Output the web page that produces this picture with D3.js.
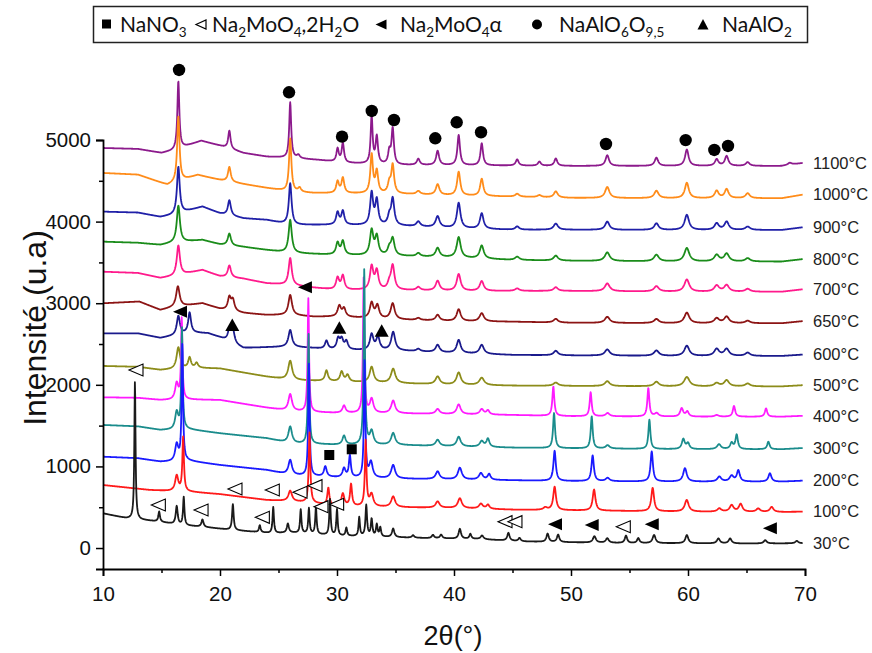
<!DOCTYPE html>
<html><head><meta charset="utf-8">
<script src="https://cdn.jsdelivr.net/npm/d3@7"></script>
<style>body{margin:0;background:#fff}svg{display:block}</style>
</head><body><svg id="c" width="872" height="653"></svg>
<script>
// ---------- DATA ----------
const xTicks = [10,20,30,40,50,60,70];
const yTicks = [0,1000,2000,3000,4000,5000];
const temps = ["1100°C","1000°C","900°C","800°C","700°C","650°C","600°C","500°C","400°C","300°C","200°C","100°C","30°C"];
const colors = ["#8C1A8C","#FF8C1A","#2020A8","#1A8C1A","#FF1A8C","#8C1414","#1A1A8C","#8C8C1A","#FF1AFF","#1A8C8C","#1A1AFF","#FF1A1A","#1A1A1A"];

// background points [2theta, intensity] and peaks [2theta, height, half-width]
const bg1100 = [[10,4902],[13,4890],[15,4841],[16,4870],[18.4,4990],[20,4930],[22,4841],[24,4796],[26,4780],[28.4,4755],[30.8,4718],[35,4694],[40,4690],[50,4682],[60,4682],[68,4682],[69.8,4718]];
const pk1100 = [[16.44,830,0.1],[20.8,220,0.12],[26.0,680,0.1],[26.7,40,0.15],[30.05,160,0.12],[30.5,235,0.12],[32.96,580,0.1],[33.4,330,0.12],[34.47,150,0.12],[34.76,440,0.12],[36.95,75,0.15],[38.6,175,0.15],[40.4,370,0.13],[42.37,270,0.13],[45.4,75,0.15],[47.3,50,0.15],[48.7,90,0.15],[53.1,130,0.18],[57.3,100,0.18],[59.9,200,0.18],[62.45,80,0.18],[63.3,120,0.18],[65.1,45,0.2],[68.7,25,0.2]];

const bg1000 = [[10,4596],[13,4575],[15.5,4449],[16.2,4480],[18.1,4571],[20,4510],[22,4460],[24,4412],[26,4367],[28,4350],[30,4347],[35,4340],[40,4320],[45,4306],[50,4290],[60,4286],[68,4286],[69.8,4330]];
const pk1000 = [[16.44,800,0.12],[20.8,180,0.14],[26.0,650,0.12],[26.8,50,0.15],[30.05,140,0.14],[30.5,185,0.14],[32.96,470,0.13],[33.4,265,0.14],[34.47,120,0.15],[34.76,345,0.14],[36.95,40,0.2],[38.6,130,0.18],[40.4,290,0.16],[42.37,210,0.16],[45.4,35,0.2],[47.3,25,0.2],[48.7,75,0.2],[53.1,135,0.22],[57.3,90,0.22],[59.9,190,0.2],[62.45,90,0.2],[63.3,110,0.2],[65.1,60,0.22]];

const bg900 = [[10,4122],[13,4110],[14.9,4057],[16,4080],[18.5,4183],[20,4100],[22,4040],[24,4020],[26,3960],[30,3959],[35,3950],[40,3920],[45,3900],[50,3900],[60,3897],[68,3897],[69.8,3930]];
const pk900 = [[16.44,575,0.14],[20.8,185,0.15],[26.0,510,0.14],[30.05,150,0.15],[30.5,165,0.15],[32.96,390,0.15],[33.4,300,0.15],[34.47,100,0.15],[34.76,325,0.16],[36.95,60,0.2],[38.6,135,0.2],[40.4,310,0.18],[42.37,190,0.18],[45.4,40,0.2],[48.7,75,0.22],[53.1,100,0.22],[57.3,80,0.22],[59.9,185,0.22],[62.45,80,0.22],[63.3,100,0.22],[65.1,40,0.25]];

const bg800 = [[10,3754],[13,3740],[14.9,3714],[16,3740],[18.5,3775],[20,3720],[22,3690],[24,3652],[26,3616],[30,3591],[35,3580],[40,3560],[45,3530],[50,3520],[60,3510],[68,3510],[69.8,3540]];
const pk800 = [[16.44,450,0.16],[20.8,145,0.16],[26.0,405,0.16],[30.05,145,0.16],[30.5,165,0.16],[32.96,300,0.17],[33.4,225,0.17],[34.47,80,0.17],[34.76,205,0.18],[36.95,40,0.2],[38.6,110,0.2],[40.4,250,0.2],[42.37,160,0.2],[45.4,40,0.22],[48.7,60,0.22],[53.1,105,0.25],[57.3,80,0.25],[59.9,165,0.25],[62.45,80,0.25],[63.3,95,0.25],[65.1,40,0.25]];

const bg700 = [[10,3386],[13,3370],[14.9,3309],[16,3330],[18.5,3407],[20,3330],[22,3300],[24,3244],[26,3223],[28,3190],[30,3162],[35,3160],[40,3150],[50,3150],[60,3140],[68,3140],[69.8,3170]];
const pk700 = [[16.44,365,0.16],[20.8,145,0.16],[26.0,330,0.16],[30.05,145,0.16],[30.5,170,0.16],[32.96,280,0.17],[33.4,225,0.17],[34.47,70,0.17],[34.76,295,0.18],[36.95,40,0.2],[38.6,120,0.2],[40.4,205,0.2],[42.37,120,0.2],[45.4,30,0.22],[48.7,45,0.22],[53.1,95,0.25],[57.3,65,0.25],[59.9,150,0.25],[62.45,75,0.25],[63.3,80,0.25],[65.1,35,0.25]];

const bg650 = [[10,2999],[13.1,3020],[14.9,2917],[16,2950],[18.5,2999],[20,2930],[22,2880],[24,2856],[26,2856],[28,2835],[30,2835],[35,2800],[40,2780],[45,2773],[50,2760],[60,2754],[68,2754],[69.8,2780]];
const pk650 = [[16.4,250,0.18],[20.8,155,0.16],[21.1,130,0.16],[26.0,245,0.18],[30.2,130,0.17],[30.6,100,0.17],[32.96,185,0.18],[33.45,155,0.18],[34.76,195,0.2],[36.95,25,0.2],[38.6,70,0.2],[40.4,145,0.2],[42.37,100,0.22],[48.7,45,0.22],[53.1,75,0.25],[57.3,50,0.25],[59.9,130,0.25],[62.45,60,0.25],[63.3,80,0.25],[65.1,30,0.25]];

const bg600 = [[10,2631],[13,2630],[14.9,2574],[16,2600],[17.5,2640],[19,2630],[20,2580],[22,2450],[24,2460],[26,2467],[28,2450],[30,2427],[35,2420],[40,2390],[45,2366],[50,2360],[60,2353],[68,2353],[69.8,2370]];
const pk600 = [[16.44,230,0.16],[17.4,245,0.14],[20.8,135,0.16],[21.1,160,0.16],[26.0,205,0.18],[29.1,100,0.15],[30.1,130,0.16],[30.4,120,0.16],[30.8,100,0.16],[32.96,190,0.18],[33.5,155,0.18],[34.8,225,0.2],[36.95,30,0.2],[38.6,90,0.2],[40.4,160,0.2],[42.37,110,0.22],[48.7,55,0.22],[53.1,75,0.25],[57.3,65,0.25],[59.9,125,0.25],[62.45,85,0.25],[63.3,85,0.25],[65.1,40,0.25]];

const bg500 = [[10,2231],[13,2220],[14.9,2182],[16,2190],[18,2206],[20,2200],[22,2150],[24,2100],[26,2059],[28,2050],[30,2040],[35,2020],[40,2000],[45,1990],[50,1986],[60,1980],[68,1980],[69.8,1995]];
const pk500 = [[16.44,265,0.18],[17.4,130,0.14],[18.0,60,0.15],[26.0,237,0.2],[29.1,130,0.15],[30.4,120,0.16],[30.9,80,0.16],[32.96,192,0.2],[34.8,175,0.22],[38.6,95,0.22],[40.4,150,0.22],[42.37,90,0.25],[48.7,40,0.25],[53.1,60,0.25],[57.3,55,0.25],[59.9,115,0.28],[62.45,40,0.25],[63.3,75,0.25],[65.1,35,0.25]];

const bg400 = [[10,1847],[13,1840],[14.9,1814],[16,1815],[17,1820],[20,1814],[24,1720],[26,1680],[28,1665],[30,1655],[35,1650],[40,1640],[45,1630],[50,1615],[60,1609],[68,1609],[69.8,1620]];
const pk400 = [[16.3,200,0.16],[16.73,990,0.07],[26.0,205,0.18],[27.55,1390,0.07],[30.6,90,0.16],[32.28,1660,0.07],[32.96,170,0.18],[34.8,155,0.2],[38.6,60,0.2],[40.4,120,0.2],[42.37,65,0.2],[42.9,50,0.15],[48.49,360,0.1],[51.68,294,0.1],[53.13,40,0.2],[56.61,347,0.1],[57.32,40,0.2],[59.46,102,0.15],[59.94,61,0.15],[62.45,20,0.2],[63.93,131,0.12],[66.67,102,0.12]];

const bg300 = [[10,1508],[13,1490],[14.9,1446],[16,1450],[17,1460],[20,1406],[24,1345],[26,1283],[28,1275],[30,1265],[35,1263],[40,1245],[45,1230],[50,1222],[60,1210],[68,1210],[69.8,1225]];
const pk300 = [[16.3,210,0.16],[16.75,1225,0.07],[26.0,205,0.18],[27.57,1350,0.07],[30.6,110,0.16],[32.33,2150,0.07],[32.96,163,0.18],[34.8,145,0.2],[38.6,75,0.2],[40.4,118,0.2],[42.37,70,0.2],[42.9,100,0.15],[48.55,429,0.1],[51.77,392,0.1],[53.13,40,0.2],[56.7,359,0.1],[59.6,122,0.15],[60.0,70,0.15],[62.65,60,0.2],[63.73,75,0.15],[64.16,175,0.12],[66.87,93,0.12]];

const bg200 = [[10,1119],[13,1100],[14.9,1058],[16,1060],[17.2,1070],[20,1017],[24,956],[26,895],[28,880],[30,865],[35,850],[40,840],[45,830],[50,820],[60,813],[68,813],[69.8,825]];
const pk200 = [[16.3,205,0.16],[16.78,1420,0.07],[26.0,184,0.18],[27.6,1370,0.07],[29.0,125,0.14],[30.6,110,0.15],[31.1,265,0.1],[32.36,1450,0.07],[32.9,191,0.18],[34.8,165,0.2],[38.6,95,0.2],[40.5,143,0.2],[42.3,80,0.2],[43.0,70,0.15],[48.6,368,0.12],[51.85,315,0.12],[53.13,40,0.2],[56.9,368,0.12],[59.74,164,0.18],[62.68,60,0.2],[63.73,70,0.2],[64.3,135,0.15],[67.0,103,0.15]];

const bg100 = [[10,772],[14,711],[15.5,700],[17.3,690],[20,660],[24,588],[26,575],[28,550],[30,515],[35,500],[40,490],[45,470],[50,462],[60,445],[68,441],[69.8,445]];
const pk100 = [[16.3,190,0.16],[16.85,660,0.08],[26.0,126,0.18],[27.65,860,0.08],[29.26,208,0.1],[30.5,150,0.15],[31.2,266,0.1],[32.45,800,0.08],[32.95,150,0.18],[34.8,130,0.2],[38.6,77,0.2],[40.5,120,0.2],[42.3,60,0.2],[42.9,50,0.15],[47.8,30,0.2],[48.6,285,0.14],[51.97,257,0.14],[56.98,287,0.14],[59.89,143,0.2],[62.68,40,0.2],[63.73,80,0.2],[64.5,95,0.18],[66.0,40,0.2],[67.15,61,0.18]];

const bg30 = [[10,425],[12,364],[14.8,323],[16.5,282],[18.4,261],[21,221],[24.5,180],[26,190],[28,170],[30,150],[33,139],[38,120],[42,110],[46,80],[50,70],[55,60],[60,58],[65,55],[69.8,58]];
const pk30 = [[12.73,1690,0.06],[14.8,122,0.08],[16.3,225,0.1],[16.9,345,0.07],[18.5,90,0.1],[21.1,318,0.08],[23.4,86,0.08],[24.55,322,0.07],[25.8,110,0.1],[26.9,290,0.07],[27.6,310,0.07],[28.2,330,0.07],[29.4,440,0.07],[30.0,320,0.07],[30.8,100,0.08],[31.9,230,0.07],[32.5,380,0.08],[32.96,210,0.08],[33.4,145,0.08],[33.7,110,0.08],[34.8,105,0.12],[36.5,30,0.12],[38.2,40,0.12],[38.9,45,0.12],[40.5,120,0.12],[41.4,60,0.1],[42.4,45,0.15],[44.65,95,0.12],[45.6,40,0.12],[48.0,100,0.12],[48.9,90,0.12],[52.0,77,0.15],[53.1,55,0.15],[54.7,90,0.12],[55.75,60,0.12],[57.1,100,0.15],[59.9,100,0.15],[62.6,60,0.15],[63.6,60,0.15],[66.6,40,0.15],[69.3,30,0.15]];

// phase markers [2theta, intensity]
const markNaAlO = [[16.5,5858],[25.9,5585],[30.43,5041],[32.97,5356],[34.87,5245],[38.4,5021],[40.23,5217],[42.31,5095],[52.99,4951],[59.8,4999],[62.25,4878],[63.42,4927]];
const markNaAlO2 = [[21.05,2733],[30.2,2700],[33.82,2663]];
const markMoAlpha = [[27.26,3195],[16.58,2896],[48.63,291],[51.77,282],[56.9,291],[67.0,242]];
const markMoHyd = [[12.82,2182],[14.73,527],[18.38,466],[21.28,723],[24.47,711],[23.62,376],[26.84,683],[28.12,764],[28.63,507],[29.97,536],[44.36,323],[45.21,323],[54.47,261]];
const markNaNO3 = [[29.34,1140],[31.26,1210]];

const backgrounds = [bg1100,bg1000,bg900,bg800,bg700,bg650,bg600,bg500,bg400,bg300,bg200,bg100,bg30];
const peaks = [pk1100,pk1000,pk900,pk800,pk700,pk650,pk600,pk500,pk400,pk300,pk200,pk100,pk30];

// ---------- CHART ----------
const svg = d3.select("#c");
const x = d3.scaleLinear().domain([10,70]).range([103,805]);
const y = d3.scaleLinear().domain([-257,5000]).range([569,140]);
const AX = "'Liberation Sans', Arial, sans-serif";

// traces
const grid = d3.range(10, 69.8001, 0.025);
const line = d3.line().x(d => x(d[0])).y(d => y(d[1]));
backgrounds.forEach((bg, i) => {
  const bgScale = d3.scaleLinear().domain(bg.map(d => d[0])).range(bg.map(d => d[1])).clamp(true);
  const pts = grid.map(t => {
    let v = bgScale(t);
    for (const p of peaks[i]) { const u = (t - p[0]) / p[2]; v += p[1] / (1 + u * u); }
    return [t, v];
  });
  svg.append("path").attr("d", line(pts)).attr("fill","none")
     .attr("stroke", colors[i]).attr("stroke-width", 1.8).attr("stroke-linejoin","round");
  svg.append("text").attr("x", 813).attr("y", y(bg[bg.length-1][1]))
     .attr("dy","0.35em").attr("font-family",AX).attr("font-size",16.5).attr("fill","#222").text(temps[i]);
});

// axes
const xAxis = d3.axisBottom(x).tickValues(xTicks).tickSize(7).tickPadding(10).tickFormat(d3.format("d"));
const xMinor = d3.axisBottom(x).tickValues([15,25,35,45,55,65]).tickSize(4).tickFormat("");
const yAxis = d3.axisLeft(y).tickValues(yTicks).tickSize(7).tickPadding(5).tickFormat(d3.format("d"));
const yMinor = d3.axisLeft(y).tickValues([500,1500,2500,3500,4500]).tickSize(4).tickFormat("");
const gx = svg.append("g").attr("transform","translate(0,569)").call(xAxis);
svg.append("g").attr("transform","translate(0,569)").call(xMinor).select(".domain").remove();
const gy = svg.append("g").attr("transform","translate(103,0)").call(yAxis);
svg.append("g").attr("transform","translate(103,0)").call(yMinor).select(".domain").remove();
svg.selectAll(".tick line").attr("stroke","#000").attr("stroke-width",1.5);
gx.select(".domain").attr("stroke","#000").attr("stroke-width",1.8);
gy.select(".domain").attr("stroke","#000").attr("stroke-width",1.8);
svg.selectAll(".tick text").attr("font-family",AX).attr("font-size",20.5).attr("fill","#111");

svg.append("text").attr("transform","translate(46,328) rotate(-90)").attr("text-anchor","middle")
   .attr("font-family",AX).attr("font-size",32).attr("fill","#111").text("Intensité (u.a)");
svg.append("text").attr("x",453).attr("y",645).attr("text-anchor","middle")
   .attr("font-family",AX).attr("font-size",27).attr("fill","#111").text("2θ(°)");

// markers
const mk = svg.append("g");
mk.selectAll(".c").data(markNaAlO).join("circle").attr("cx",d=>x(d[0])).attr("cy",d=>y(d[1])).attr("r",6.2).attr("fill","#000");
mk.selectAll(".u").data(markNaAlO2).join("path").attr("transform",d=>`translate(${x(d[0])},${y(d[1])})`).attr("d","M0,-6.5L7,6L-7,6Z").attr("fill","#000");
mk.selectAll(".l").data(markMoAlpha).join("path").attr("transform",d=>`translate(${x(d[0])},${y(d[1])})`).attr("d","M-7,0L7,-6L7,6Z").attr("fill","#000");
mk.selectAll(".o").data(markMoHyd).join("path").attr("transform",d=>`translate(${x(d[0])},${y(d[1])})`).attr("d","M-7,0L7,-6L7,6Z").attr("fill","#fff").attr("stroke","#000").attr("stroke-width",1.1);
mk.selectAll(".s").data(markNaNO3).join("rect").attr("x",d=>x(d[0])-5).attr("y",d=>y(d[1])-5).attr("width",10).attr("height",10).attr("fill","#000");

// legend
const LF = "Lato, 'Open Sans', sans-serif";
const lg = svg.append("g");
lg.append("rect").attr("x",93.5).attr("y",6.5).attr("width",714).attr("height",36).attr("fill","#fff").attr("stroke","#222").attr("stroke-width",1.5);
const ly = 24.5;
lg.append("rect").attr("x",102).attr("y",ly-5).attr("width",9).attr("height",9).attr("fill","#000");
lg.append("path").attr("transform",`translate(201,${ly})`).attr("d","M-5,0L5,-4.5L5,4.5Z").attr("fill","#fff").attr("stroke","#000").attr("stroke-width",1.2);
lg.append("path").attr("transform",`translate(381,${ly})`).attr("d","M-5.5,0L5.5,-5L5.5,5Z").attr("fill","#000");
lg.append("circle").attr("cx",537).attr("cy",ly).attr("r",5).attr("fill","#000");
lg.append("path").attr("transform",`translate(703,${ly})`).attr("d","M0,-5.5L5.5,5L-5.5,5Z").attr("fill","#000");
function legText(xp, parts){
  const t = lg.append("text").attr("x",xp).attr("y",ly+7.5).attr("font-family",LF).attr("font-size",21).attr("fill","#111");
  parts.forEach(p => {
    const s = t.append("tspan").text(p[0]);
    if (p[1]) s.attr("font-size",13.5).attr("dy",4.5); else if (p[2]) s.attr("dy",-4.5);
  });
}
legText(120, [["NaNO"],["3",1]]);
legText(212, [["Na"],["2",1],["MoO",0,1],["4",1],[",2H",0,1],["2",1],["O",0,1]]);
legText(400, [["Na"],["2",1],["MoO",0,1],["4",1],["α",0,1]]);
legText(559, [["NaAlO"],["6",1],["O",0,1],["9,5",1]]);
legText(722, [["NaAlO"],["2",1]]);
</script></body></html>
